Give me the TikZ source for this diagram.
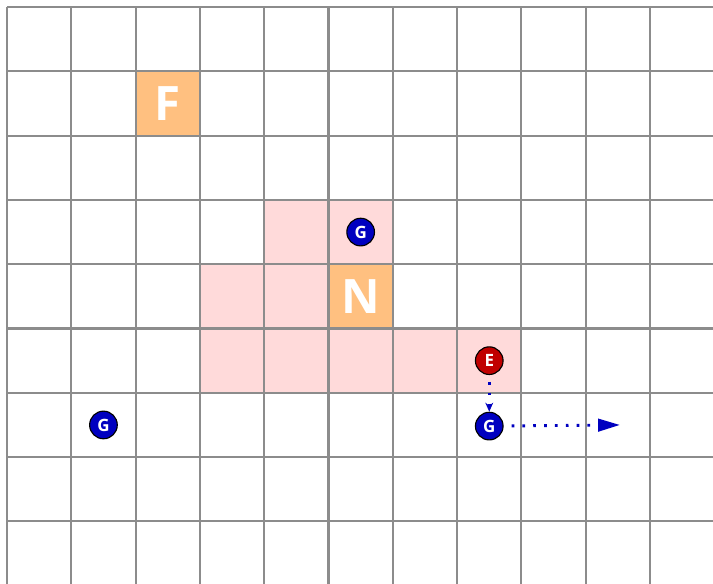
\documentclass[tikz,border=0pt]{standalone}
\usepackage{fontspec}
\setmainfont{Open Sans}
\usetikzlibrary{arrows.meta, positioning}

\definecolor{tileorange}{HTML}{FFC080}
\definecolor{zonepink}{HTML}{FFDADA}
\definecolor{gridgray}{HTML}{8C8C8C}
\definecolor{agentblue}{HTML}{0000C0}
\definecolor{agentred}{HTML}{C00000}

\begin{document}
\begin{tikzpicture}[
		x=1cm, y=-1cm,
		font=\bfseries,
		gridline/.style={draw=gridgray, line width=0.9pt},
		zone/.style={fill=zonepink},
		tile/.style={fill=tileorange, text=white, minimum size=1cm, inner sep=0pt, font=\fontsize{21}{21}\selectfont\bfseries},
		agent/.style={circle, draw=black, line width=0.5pt, text=white, minimum size=0.43cm, inner sep=0pt, font=\fontsize{7.5}{7.5}\selectfont\bfseries},
		ghost/.style={agent, fill=agentblue},
		enemy/.style={agent, fill=agentred},
		move/.style={draw=agentblue, line width=1.3pt, dash pattern=on 1.2pt off 3.6pt}
		]
		
		% Frame
		\useasboundingbox (-0.109,-0.109) rectangle (10.980,8.958);
		\clip (-0.109,-0.109) rectangle (10.980,8.958);
		
		% Pink zone
		\fill[zone] (4,3) rectangle (6,4);
		\fill[zone] (3,4) rectangle (6,5);
		\fill[zone] (3,5) rectangle (8,6);
		
		% Tiles
		\node[tile] (F) at (2.5,1.5) {F};
		\node[tile] (N) at (5.5,4.5) {N};
		
		% Grid
		\foreach \i in {0,...,11}
			\draw[gridline] (\i,0) -- (\i,9.2);
		\foreach \j in {0,...,9}
			\draw[gridline] (0,\j) -- (11.2,\j);
		
		% Agents
		\node[ghost] (ghost1) at (5.5,3.5) {G};
		\node[ghost] (ghost2) at (1.5,6.5) {G};
		\node[enemy] (enemy) at (7.5,5.5) {E};
		\node[ghost, below=0.57cm of enemy] (ghost3) {G};
		\coordinate (goal) at (9.533,6.5);
		
		% Moves
		\draw[move, shorten <=3pt, -{Stealth[length=4pt, width=3.5pt, fill=agentblue]}] (enemy) -- (ghost3);
		\draw[move, shorten <=3.5pt, -{Triangle[length=9.7pt, width=5.5pt, fill=agentblue]}] (ghost3) -- (goal);
		
	\end{tikzpicture}
\end{document}
